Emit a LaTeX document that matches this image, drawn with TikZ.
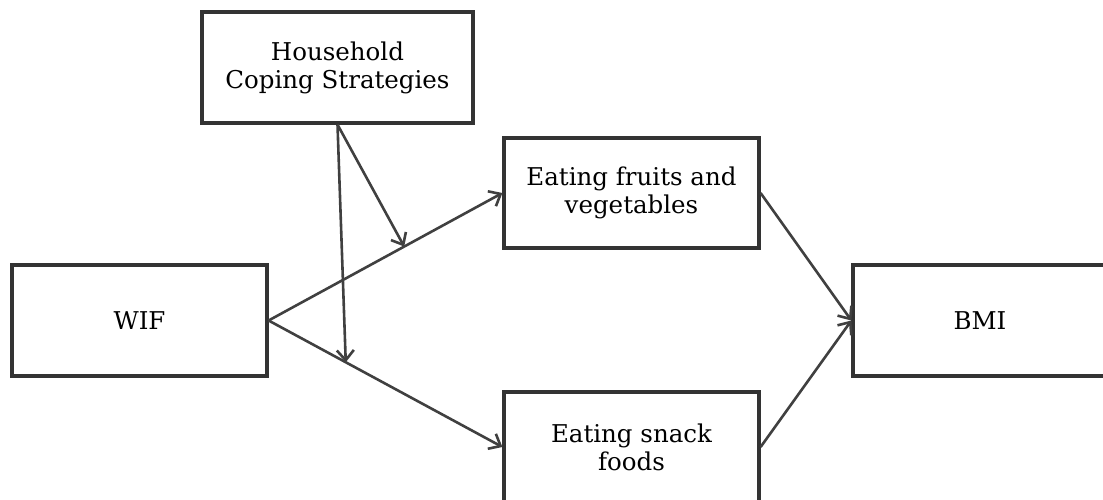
\documentclass[tikz,border=0pt]{standalone}
\usepackage{fontspec}
\setmainfont{DejaVu Serif}
\usepackage{tikz}
\usetikzlibrary{arrows.meta,calc}

\begin{document}
\begin{tikzpicture}[x=1pt, y=-1pt, >={Straight Barb[length=10pt,width=17pt]},
	box/.style={draw=black!80, line width=3.2pt, fill=white, inner sep=0pt, align=center, font=\fontsize{24.5}{28}\selectfont},
	link/.style={->, draw=black!75, line width=2.6pt}]
	\useasboundingbox (0,0) rectangle (1103,500);
	\clip (0,0) rectangle (1103,500);
	\node[box, minimum width=271pt, minimum height=111pt] (hcs) at (337.5,67.5) {Household\\Coping Strategies};
	\node[box, minimum width=255pt, minimum height=110pt] (fruit) at (631.5,193) {Eating fruits and\\vegetables};
	\node[box, minimum width=255pt, minimum height=111pt] (wif) at (139.5,320.5) {WIF};
	\node[box, minimum width=254pt, minimum height=111pt] (bmi) at (980,320.5) {BMI};
	\node[box, minimum width=255pt, minimum height=110pt] (snack) at (631.5,447) {Eating snack\\foods};
	\draw[link] (wif.east) -- (fruit.west);
	\draw[link] (wif.east) -- (snack.west);
	\draw[link] (fruit.east) -- (bmi.west);
	\draw[link] (snack.east) -- (bmi.west);
	% moderation arrows
	\coordinate (mfruit) at ($(wif.east)!0.58!(fruit.west)$);
	\coordinate (msnack) at ($(wif.east)!0.33!(snack.west)$);
	\draw[link] (hcs.south) -- (mfruit);
	\draw[link] (hcs.south) -- (msnack);
\end{tikzpicture}
\end{document}
